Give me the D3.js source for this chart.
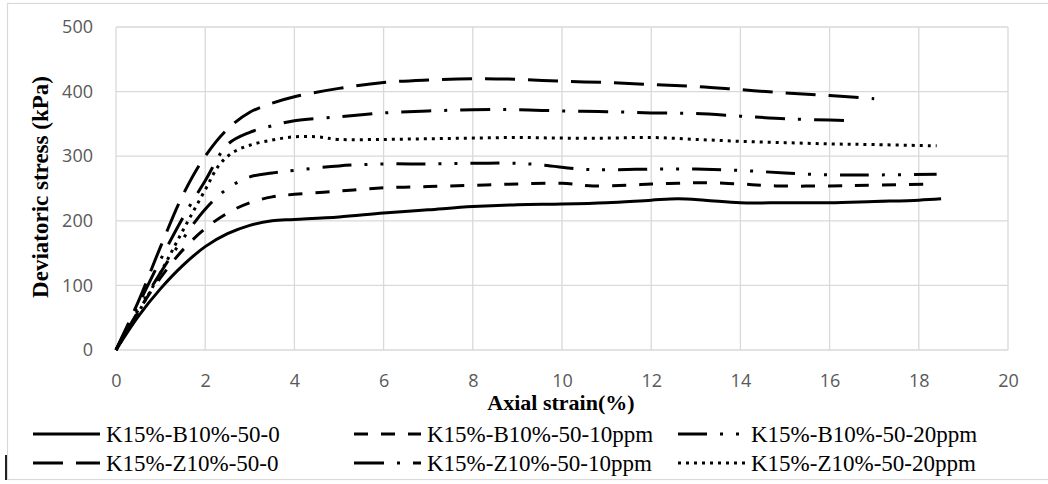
<!DOCTYPE html>
<html><head><meta charset="utf-8">
<script src="https://cdn.jsdelivr.net/npm/d3@7"></script>
<style>
html,body{margin:0;padding:0;background:#fff;}
svg{display:block;}
</style></head>
<body>
<svg id="chart" width="1048" height="484"></svg>
<script>
// ---- data ----
const xTicks = [0,2,4,6,8,10,12,14,16,18,20];
const yTicks = [0,100,200,300,400,500];

const seriesNames = [
  "K15%-B10%-50-0","K15%-B10%-50-10ppm","K15%-B10%-50-20ppm",
  "K15%-Z10%-50-0","K15%-Z10%-50-10ppm","K15%-Z10%-50-20ppm"
];

const b0X  = [0,0.5,1,1.5,2,2.5,3,3.5,4,5,6,7,8,9,10,11,12,12.6,13.2,14,15,16,17,18,18.5];
const b0Y  = [0,52,95,131,160,180,193,200,202,206,212,217,222,225,226,228,232,234,232,228,228,228,230,232,234];

const b10X = [0,0.5,1,1.5,2,2.5,3,3.5,4,5,6,7,8,9,10,10.7,11.5,12,12.6,13.2,14,14.8,16,17,18.3];
const b10Y = [0,60,112,155,188,212,228,237,241,246,251,253,255,257,258,254,255,257,258,259,257,254,254,255,257];

const b20X = [0,0.5,1,1.5,2,2.5,3,3.5,4,5,6,7,8,9,9.6,10.4,11,12,13,14,15,16,17,18.4];
const b20Y = [0,62,120,172,218,250,268,274,278,285,288,288,289,289,286,280,279,280,280,278,274,271,271,272];

const z0X  = [0,0.5,1,1.5,2,2.5,3,3.5,4,5,6,7,8,9,10,11,12,13,14,15,16,17];
const z0Y  = [0,75,160,240,300,342,368,382,392,405,414,418,420,419,416,414,411,408,403,398,394,389];

const z10X = [0,0.5,1,1.5,2,2.5,3,3.5,4,5,6,7,8,9,10,11,12,13,14,15,16,16.5];
const z10Y = [0,70,140,205,262,318,337,347,355,361,367,370,372,372,370,369,367,366,362,358,356,355];

const z20X = [0,0.5,1,1.5,2,2.3,2.6,3,3.5,4,4.5,5,6,7,8,9,10,11,12,13,14,15,16,17,18.4];
const z20Y = [0,58,120,185,248,285,305,317,325,330,330,326,326,327,328,329,328,328,329,326,323,321,319,318,316];

const seriesX = [b0X,b10X,b20X,z0X,z10X,z20X];
const seriesY = [b0Y,b10Y,b20Y,z0Y,z10Y,z20Y];

// ---- styles ----
const dashes = [null, "14,13", "29,13,3,13,3,13", "30,13", "30,13,3,13", "3,5"];

const svg = d3.select("#chart");
const x = d3.scaleLinear().domain([0,20]).range([116,1008]);
const y = d3.scaleLinear().domain([0,500]).range([350,27]);

// outer frame
svg.append("rect").attr("x",7.5).attr("y",3.5).attr("width",1100).attr("height",476)
  .attr("fill","none").attr("stroke","#d9d9d9").attr("stroke-width",1.2);
svg.append("rect").attr("x",5).attr("y",455).attr("width",2).attr("height",25).attr("fill","#222");

// grid
const grid = svg.append("g").attr("stroke","#d9d9d9").attr("stroke-width",1.3);
grid.selectAll("line.h").data(yTicks).join("line")
  .attr("x1",x(0)).attr("x2",x(20)).attr("y1",d=>y(d)).attr("y2",d=>y(d));
grid.selectAll("line.v").data(xTicks).join("line")
  .attr("y1",y(0)).attr("y2",y(500)).attr("x1",d=>x(d)).attr("x2",d=>x(d));

// axes
const ax = svg.append("g").attr("transform",`translate(0,${y(0)})`)
  .call(d3.axisBottom(x).tickValues(xTicks).tickSize(0).tickPadding(24).tickFormat(d3.format("d")));
ax.select(".domain").remove();
ax.selectAll("text").attr("font-family","'Open Sans', 'Liberation Sans', sans-serif")
  .attr("font-size",18).attr("fill","#595959");

const ay = svg.append("g").attr("transform",`translate(${x(0)},0)`)
  .call(d3.axisLeft(y).tickValues(yTicks).tickSize(0).tickPadding(23).tickFormat(d3.format("d")));
ay.select(".domain").remove();
ay.selectAll("text").attr("font-family","'Open Sans', 'Liberation Sans', sans-serif")
  .attr("font-size",18).attr("fill","#595959");

// titles
svg.append("text").attr("transform","translate(40,187) rotate(-90)")
  .attr("text-anchor","middle").attr("dominant-baseline","central")
  .attr("font-family","'Liberation Serif', serif").attr("font-weight","bold").attr("font-size",23)
  .text("Deviatoric stress (kPa)");
svg.append("text").attr("x",561).attr("y",410).attr("text-anchor","middle")
  .attr("font-family","'Liberation Serif', serif").attr("font-weight","bold").attr("font-size",22)
  .text("Axial strain(%)");

// lines
const line = d3.line().x(d=>x(d[0])).y(d=>y(d[1])).curve(d3.curveCatmullRom.alpha(0.5));
seriesX.forEach((xs,i)=>{
  const pts = xs.map((v,j)=>[v, seriesY[i][j]]);
  const p = svg.append("path").datum(pts).attr("d",line)
    .attr("fill","none").attr("stroke","#000").attr("stroke-width",3);
  if (dashes[i]) p.attr("stroke-dasharray",dashes[i]);
});

// legend
const legX = [33,354,678];
const legRowY = [434,463];
seriesNames.forEach((name,i)=>{
  const col = i%3, row = Math.floor(i/3);
  const g = svg.append("g");
  const l = g.append("line").attr("x1",legX[col]).attr("x2",legX[col]+67)
    .attr("y1",legRowY[row]).attr("y2",legRowY[row])
    .attr("stroke","#000").attr("stroke-width",3);
  if (dashes[i]) l.attr("stroke-dasharray",dashes[i]);
  g.append("text").attr("x",legX[col]+73).attr("y",legRowY[row]+8)
    .attr("font-family","'Liberation Serif', serif").attr("font-size",23).attr("fill","#000")
    .text(name);
});
</script>
</body></html>
